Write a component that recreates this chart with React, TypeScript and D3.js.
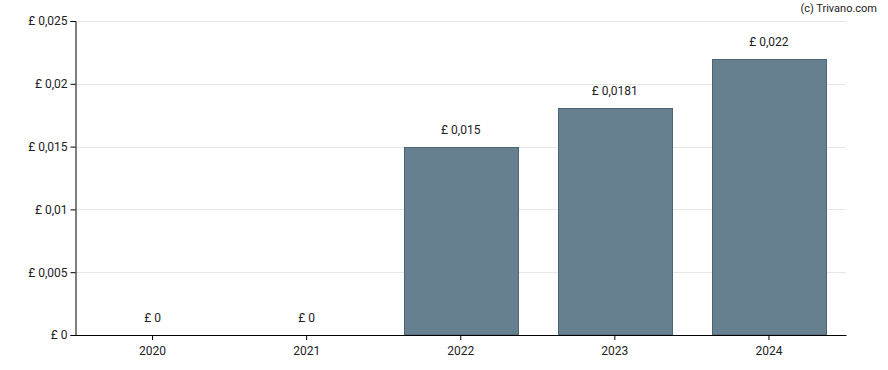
import React, { useRef, useEffect } from "react";
import * as d3 from "d3";

const years = ["2020", "2021", "2022", "2023", "2024"];
const dividends = [0, 0, 0.015, 0.0181, 0.022];
const yTicks = [0, 0.005, 0.01, 0.015, 0.02, 0.025];

const fmt = (v: number) => "£ " + String(+v.toFixed(4)).replace(".", ",");

export default function App() {
  const svgRef = useRef<SVGSVGElement>(null);

  useEffect(() => {
    const svg = d3.select(svgRef.current);
    svg.selectAll("*").remove();
    const W = 888, H = 370;
    const margin = { top: 21, right: 42, bottom: 35, left: 75.5 };
    const font = "Roboto, 'DejaVu Sans', sans-serif";

    const x = d3.scaleBand<string>()
      .domain(years)
      .range([margin.left, W - margin.right])
      .paddingInner(0.258)
      .paddingOuter(0.129);
    const y = d3.scaleLinear()
      .domain([0, 0.025])
      .range([H - margin.bottom, margin.top]);

    // gridlines
    svg.append("g")
      .selectAll("line")
      .data(yTicks.slice(1))
      .enter()
      .append("line")
      .attr("x1", margin.left)
      .attr("x2", W - margin.right)
      .attr("y1", d => Math.round(y(d)) + 0.5)
      .attr("y2", d => Math.round(y(d)) + 0.5)
      .style("stroke", "#e6e6e6")
      .style("stroke-width", "1px");

    // bars (zero values draw nothing)
    svg.append("g")
      .selectAll("rect")
      .data(years.map((yr, i) => ({ yr, v: dividends[i] })).filter(d => d.v > 0))
      .enter()
      .append("rect")
      .attr("x", d => Math.round(x(d.yr)!) + 0.5)
      .attr("y", d => Math.round(y(d.v)) + 0.5)
      .attr("width", Math.round(x.bandwidth()))
      .attr("height", d => y(0) - Math.round(y(d.v)) - 0.5)
      .style("fill", "#66808f")
      .style("stroke", "#4a6478")
      .style("stroke-width", "1px");

    // value labels
    svg.append("g")
      .selectAll("text")
      .data(dividends)
      .enter()
      .append("text")
      .attr("x", (d, i) => x(years[i])! + x.bandwidth() / 2)
      .attr("y", d => y(d) - 13)
      .attr("text-anchor", "middle")
      .style("font-family", font)
      .style("font-size", "12px")
      .style("fill", "#222")
      .text(d => fmt(d));

    // y axis
    const yAxis = svg.append("g")
      .attr("transform", `translate(${margin.left},0)`)
      .call(d3.axisLeft(y).tickValues(yTicks).tickSize(5).tickPadding(3).tickFormat(d => fmt(+d)));
    yAxis.select(".domain").attr("stroke", "#000");
    yAxis.selectAll("text").style("font-family", font).style("font-size", "12px").style("fill", "#222");

    // x axis
    const xAxis = svg.append("g")
      .attr("transform", `translate(0,${y(0)})`)
      .call(d3.axisBottom(x).tickSize(5).tickPadding(6).tickSizeOuter(0));
    xAxis.select(".domain").attr("stroke", "#000");
    xAxis.selectAll("text").style("font-family", font).style("font-size", "12px").style("fill", "#222");

    svg.append("text")
      .attr("x", 877)
      .attr("y", 12)
      .attr("text-anchor", "end")
      .style("font-family", font)
      .style("font-size", "11px")
      .style("fill", "#222")
      .text("(c) Trivano.com");
  }, []);

  return (
    <svg
      ref={svgRef}
      width={888}
      height={370}
      style={{ position: "absolute", left: 0, top: 0, background: "#fff" }}
    />
  );
}
